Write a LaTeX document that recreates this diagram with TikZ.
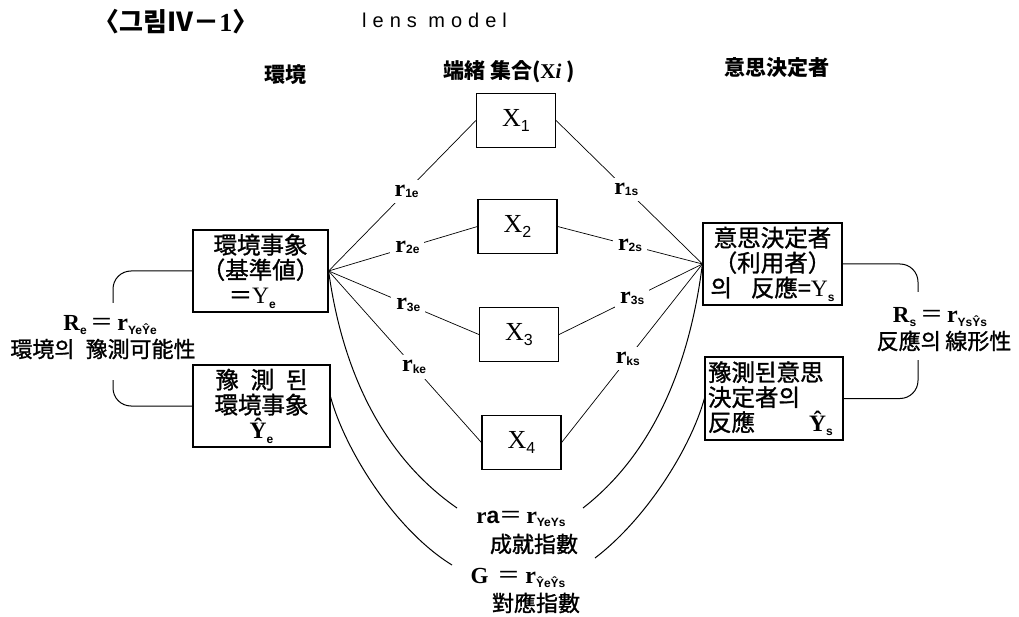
\documentclass[tikz,border=0pt]{standalone}
\usepackage{fontspec}
\setmainfont{Liberation Serif}
\setsansfont{Liberation Sans}
\newfontfamily\cjk{Noto Sans CJK KR}
\newfontfamily\cjkm[FakeBold=1.2]{Noto Sans CJK KR}
\newfontfamily\lensfont[LetterSpace=30]{Liberation Sans}
\newcommand\lowsub[1]{\raisebox{-0.35ex}{\fontsize{12}{12}\selectfont\sffamily\bfseries #1}}
\newcommand\xsub[1]{\raisebox{-0.45ex}{\fontsize{16}{16}\selectfont\sffamily #1}}
\newcommand\rsym[1]{{\rmfamily\bfseries\fontsize{24}{24}\selectfont r}\lowsub{#1}}
\begin{document}
\begin{tikzpicture}[x=1pt,y=-1pt,
 xbox/.style={draw,line width=1.2pt,minimum width=79pt,minimum height=54pt,inner sep=0pt,font=\rmfamily\fontsize{26}{26}\selectfont},
 tbox/.style={draw,line width=1.2pt,inner sep=0pt,font=\cjkm\fontsize{23.5}{25}\selectfont},
 fan/.style={line width=0.7pt},
 arcline/.style={line width=1pt},
 brk/.style={line width=1pt,rounded corners=18pt},
 rlab/.style={fill=white,inner sep=5pt,font=\rmfamily},
 lab/.style={inner sep=0pt,font=\cjkm\fontsize{22}{22}\selectfont},
 latlab/.style={inner sep=0pt,font=\rmfamily\fontsize{23}{23}\selectfont},
 head/.style={inner sep=0pt,font=\cjk\bfseries\fontsize{21}{21}\selectfont}]
\useasboundingbox (0,0) rectangle (1019,617);

% title and headers
\node[head,font=\cjk\bfseries\fontsize{26}{26}\selectfont] (title) at (176,22) {〈그림Ⅳ－{\rmfamily\bfseries 1}〉};
\node[anchor=west,inner sep=0pt,font=\lensfont\fontsize{20}{20}\selectfont] (lens) at (362,20) {lens model};
\node[head] (hEnv) at (285,75) {環境};
\node[head,anchor=west] (hCue) at (443,72) {端緒 集合({\rmfamily\bfseries X\textit{i}} )};
\node[head] (hDec) at (777,68) {意思決定者};

% cue boxes
\node[xbox] (X1) at (516,120.5) {X\xsub{1}};
\node[xbox] (X2) at (517.5,226.5) {X\xsub{2}};
\node[xbox] (X3) at (519,334.5) {X\xsub{3}};
\node[xbox] (X4) at (521.5,442.5) {X\xsub{4}};

% main boxes
\node[tbox,minimum width=135pt,minimum height=82pt,align=center] (Ye) at (260.5,271)
  {環境事象\\（基準値）\\＝{\rmfamily Y}\lowsub{e}\hspace*{0.7em}};
\node[tbox,minimum width=137pt,minimum height=82pt,align=center] (Yhe) at (261.5,406)
  {豫\hspace{0.5em}測\hspace{0.5em}된\\環境事象\\{\rmfamily\bfseries Ŷ}\lowsub{e}};
\node[tbox,minimum width=139pt,minimum height=82pt,align=center] (Ys) at (772.5,264)
  {意思決定者\\（利用者）\\의\hspace{0.8em}反應={\rmfamily Y}\lowsub{s}};
\node[tbox,minimum height=83pt,inner xsep=3pt,text width=132pt,align=left] (Yhs) at (774,398.5)
  {豫測된意思\\決定者의\\反應\hspace{2.3em}{\rmfamily\bfseries Ŷ}\lowsub{s}};

% fan lines with labels
\draw[fan] (Ye.east) -- node[rlab,pos=0.53] {\rsym{1e}} (X1.west);
\draw[fan] (Ye.east) -- node[rlab,pos=0.53] {\rsym{2e}} (X2.west);
\draw[fan] (Ye.east) -- node[rlab,pos=0.53] {\rsym{3e}} (X3.west);
\draw[fan] (Ye.east) -- node[rlab,pos=0.56] {\rsym{ke}} (X4.west);
\draw[fan] (X1.east) -- node[rlab,pos=0.48] {\rsym{1s}} (Ys.west);
\draw[fan] (X2.east) -- node[rlab,pos=0.5] {\rsym{2s}} (Ys.west);
\draw[fan] (X3.east) -- node[rlab,pos=0.51] {\rsym{3s}} (Ys.west);
\draw[fan] (X4.east) -- node[rlab,pos=0.47] {\rsym{ks}} (Ys.west);

% brackets
\coordinate (ReTop) at (113,303);
\coordinate (ReBot) at (113,380);
\coordinate (RsTop) at (918,292);
\coordinate (RsBot) at (918,360);
\draw[brk] (Ye.west) -| (ReTop);
\draw[brk] (Yhe.west) -| (ReBot);
\draw[brk] (Ys.east) -| (RsTop);
\draw[brk] (Yhs.east) -| (RsBot);

\node[latlab] (Re) at (110,325) {\textbf{R}\lowsub{e}\,{\cjk＝}\,\rsym{YeŶe}};
\node[lab] (ReT) at (103,349) {環境의\hspace{0.5em}豫測可能性};
\node[latlab] (Rs) at (940,317) {\textbf{R}\lowsub{s}\,{\cjk＝}\,\rsym{YsŶs}};
\node[lab] (RsT) at (944,341) {反應의\hspace{0.2em}線形性};

% achievement and matching arcs
\coordinate (raL) at (457,508);
\coordinate (raR) at (583,508);
\coordinate (gL) at (452,565);
\coordinate (gR) at (595,558);
\draw[arcline] (Ye.east) .. controls (345,390) and (395,465) .. (raL);
\draw[arcline] (Ys.west) .. controls (687,386) and (641,463) .. (raR);
\draw[arcline] ([yshift=9pt]Yhe.east) .. controls (345,450) and (395,530) .. (gL);
\draw[arcline] (Yhs.west) .. controls (690,450) and (645,520) .. (gR);

\node[latlab] (ra) at (521,519) {\textbf{r}{\sffamily\bfseries a}{\cjk＝}\,\rsym{YeYs}};
\node[lab] (raT) at (534,544) {成就指數};
\node[latlab] (G) at (518,578) {\textbf{G}\hspace{0.4em}{\cjk＝}\hspace{0.2em}\rsym{ŶeŶs}};
\node[lab] (GT) at (536,603) {對應指數};
\end{tikzpicture}
\end{document}
